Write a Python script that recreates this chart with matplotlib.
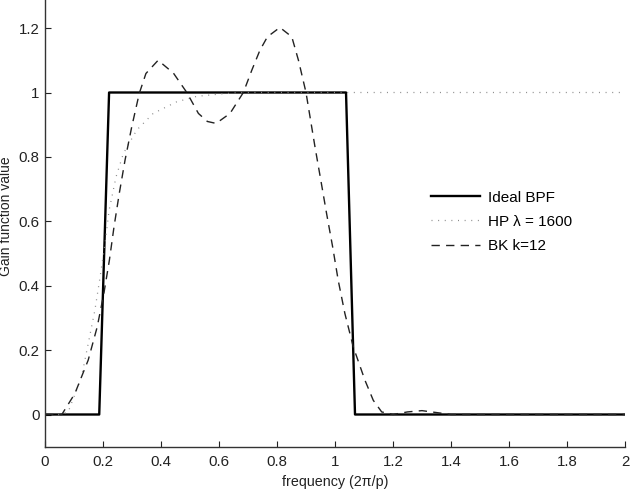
import matplotlib
matplotlib.use("Agg")
import matplotlib.pyplot as plt
from matplotlib.ticker import FuncFormatter

# ---------------------------------------------------------------------------
# Data
# ---------------------------------------------------------------------------
bpf_x = [0.0, 0.187, 0.221, 1.038, 1.069, 2.0]
bpf_y = [0.0, 0.0, 1.0, 1.0, 0.0, 0.0]

hp_x = [0.0, 0.05, 0.08, 0.126, 0.149, 0.172, 0.19, 0.207, 0.221, 0.245,
        0.27, 0.316, 0.373, 0.454, 0.523, 0.60, 0.67, 0.80, 1.0, 1.5, 2.0]
hp_y = [0.0, 0.0, 0.008, 0.117, 0.22, 0.324, 0.427, 0.531, 0.634, 0.738,
        0.81, 0.883, 0.935, 0.971, 0.988, 0.995, 1.0, 1.0, 1.0, 1.0, 1.0]

bk_x = [0.0, 0.058, 0.103, 0.149, 0.18, 0.203, 0.222, 0.238, 0.256, 0.276,
        0.299, 0.325, 0.348, 0.39, 0.443, 0.489, 0.529, 0.56, 0.59, 0.638,
        0.684, 0.713, 0.741, 0.767, 0.81, 0.851, 0.874, 0.90, 0.931, 0.951,
        0.971, 0.992, 1.011, 1.034, 1.063, 1.103, 1.132, 1.161, 1.2, 1.25,
        1.3, 1.35, 1.4, 1.6, 2.0]
bk_y = [0.0, 0.0, 0.065, 0.169, 0.272, 0.376, 0.479, 0.583, 0.686, 0.79,
        0.893, 0.997, 1.059, 1.10, 1.06, 1.0, 0.935, 0.91, 0.904, 0.935,
        1.0, 1.069, 1.131, 1.173, 1.202, 1.173, 1.10, 1.0, 0.831, 0.728,
        0.624, 0.52, 0.417, 0.314, 0.21, 0.107, 0.044, 0.008, 0.0, 0.008,
        0.012, 0.006, 0.0, 0.0, 0.0]

x_ticks = [0, 0.2, 0.4, 0.6, 0.8, 1.0, 1.2, 1.4, 1.6, 1.8, 2.0]
y_ticks = [0, 0.2, 0.4, 0.6, 0.8, 1.0, 1.2]

# ---------------------------------------------------------------------------
# Plot
# ---------------------------------------------------------------------------
plt.rcParams.update({
    "font.family": ["Liberation Sans", "DejaVu Sans"],
    "font.size": 11,
})

fig = plt.figure(figsize=(6.34, 4.98), dpi=100)
ax = fig.add_axes([45 / 634, 51.3 / 498, 580 / 634, 450.8 / 498])

ax.plot(bpf_x, bpf_y, color="black", lw=1.7, label="Ideal BPF")
ax.plot(hp_x, hp_y, color="#8a8a8a", lw=0.9, dashes=(0.8, 4.5),
        label="HP \u03bb = 1600")
ax.plot(bk_x, bk_y, color="#222222", lw=1.0, dashes=(6, 4.5),
        label="BK k=12")

ax.set_xlim(0, 2)
ax.set_ylim(-0.1, 1.3)
ax.set_xticks(x_ticks)
ax.set_yticks(y_ticks)
fmt = FuncFormatter(lambda v, p: f"{v:g}")
ax.xaxis.set_major_formatter(fmt)
ax.yaxis.set_major_formatter(fmt)

ax.tick_params(direction="in", length=4, width=0.8, colors="#222222",
               labelsize=10.8)
ax.tick_params(axis="x", pad=6)
ax.tick_params(axis="y", pad=4)

for s in ["top", "right"]:
    ax.spines[s].set_visible(False)
for s in ["left", "bottom"]:
    ax.spines[s].set_color("#333333")
    ax.spines[s].set_linewidth(1.0)

ax.set_xlabel("frequency (2\u03c0/p)", fontsize=10.3, color="#222222")
ax.xaxis.set_label_coords(0.5, -0.062)
ax.set_ylabel("Gain function value", fontsize=10, color="#222222")
ax.yaxis.set_label_coords(-0.056, 0.512)

leg = ax.legend(loc="center left", bbox_to_anchor=(0.642, 0.499),
                frameon=False, fontsize=11, handlelength=3.2,
                handletextpad=0.53, labelspacing=0.67)

fig.savefig("out.png", dpi=100)
